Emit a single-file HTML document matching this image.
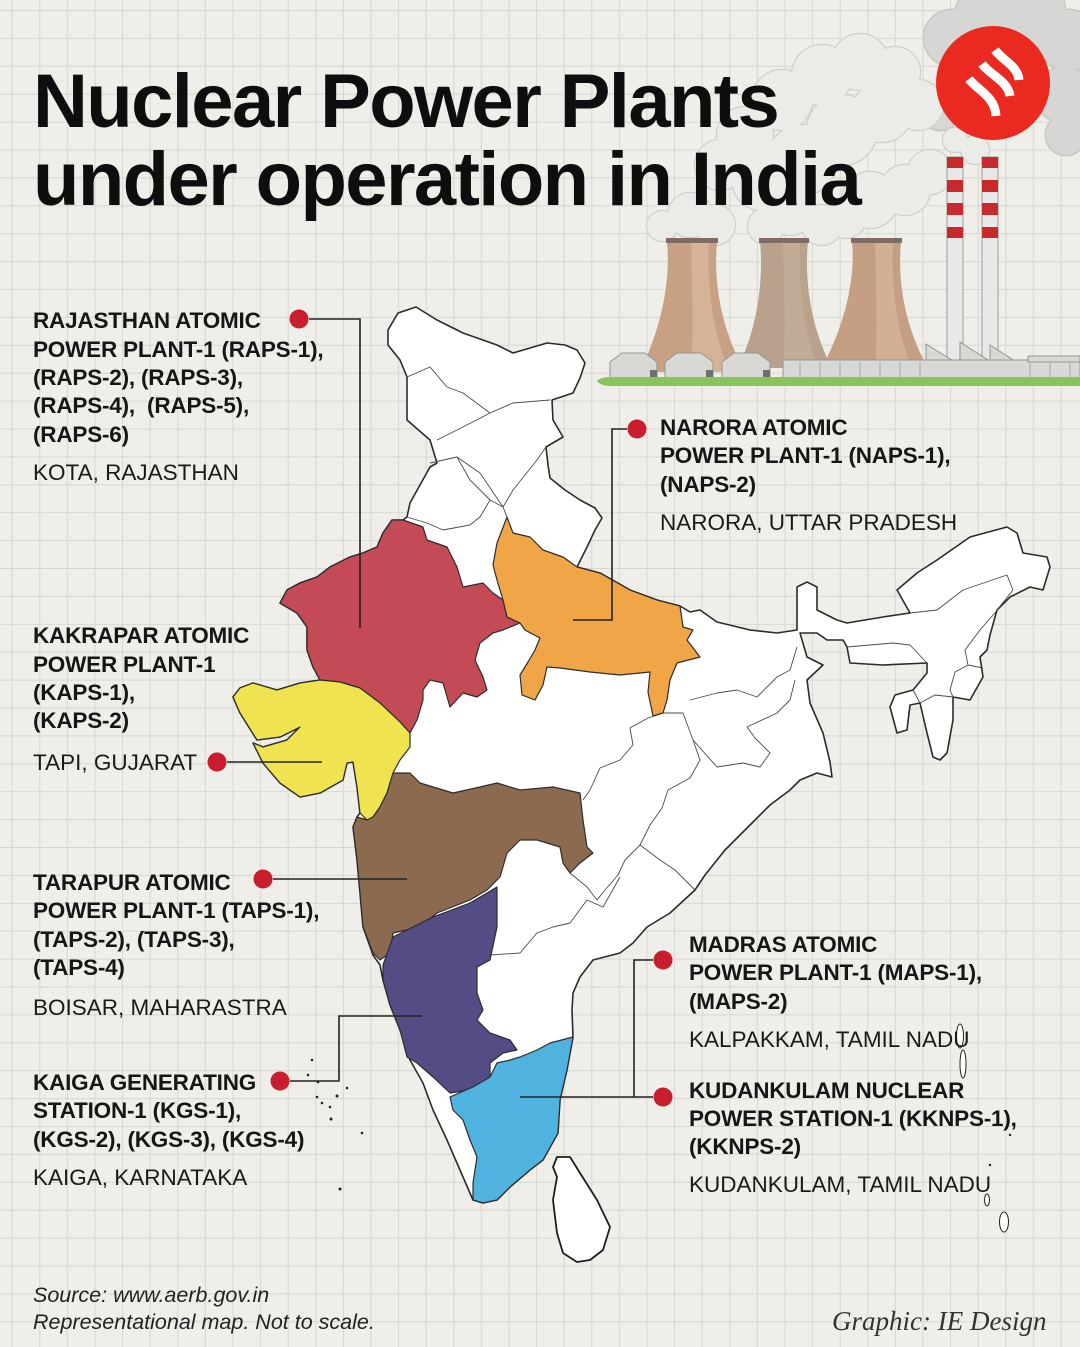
<!DOCTYPE html>
<html><head><meta charset="utf-8"><style>
html,body{margin:0;padding:0;background:#efeee9;}
svg{display:block;}
.t{font-family:"Liberation Sans",Arial,sans-serif;font-weight:700;font-size:76px;letter-spacing:-1.6px;fill:#0e0e0e;}
.b{font-family:"Liberation Sans",Arial,sans-serif;font-weight:700;font-size:22.5px;letter-spacing:-0.2px;fill:#161616;}
.r{font-family:"Liberation Sans",Arial,sans-serif;font-weight:400;font-size:22.5px;fill:#1a1a1a;}
.i{font-family:"Liberation Sans",Arial,sans-serif;font-style:italic;font-size:21.5px;fill:#222;}
.s{font-family:"Liberation Serif","DejaVu Serif",serif;font-style:italic;font-size:27px;fill:#333;}
</style></head><body>
<svg width="1080" height="1347" viewBox="0 0 1080 1347" xmlns="http://www.w3.org/2000/svg">
<defs>
<pattern id="g" x="11.7" y="10" width="27.6" height="27.9" patternUnits="userSpaceOnUse">
<path d="M0,0.5 H27.6 M0.5,0 V27.9" stroke="#d7d7d2" stroke-width="1" fill="none"/>
</pattern>
</defs>
<rect width="1080" height="1347" fill="#efeee9"/>
<rect width="1080" height="1347" fill="url(#g)"/>

<!-- smoke clouds -->
<g stroke="#c8c8c6" stroke-width="3" fill="#d6d6d4">
<circle cx="952" cy="38" r="28"/><circle cx="985" cy="16" r="30"/><circle cx="1030" cy="12" r="35"/><circle cx="1068" cy="40" r="30"/><circle cx="1064" cy="95" r="28"/><circle cx="1066" cy="135" r="20"/><circle cx="940" cy="110" r="20"/>
</g>
<g fill="#d6d6d4">
<circle cx="952" cy="38" r="28"/><circle cx="985" cy="16" r="30"/><circle cx="1030" cy="12" r="35"/><circle cx="1068" cy="40" r="30"/><circle cx="1064" cy="95" r="28"/><circle cx="1066" cy="135" r="20"/><circle cx="940" cy="110" r="20"/>
</g>
<g stroke="#d0d0ce" stroke-width="2.5" fill="#ebebe8">
<circle cx="720" cy="165" r="25"/><circle cx="745" cy="135" r="28"/><circle cx="782" cy="100" r="30"/><circle cx="822" cy="75" r="30"/><circle cx="860" cy="62" r="28"/><circle cx="895" cy="72" r="25"/><circle cx="762" cy="180" r="30"/><circle cx="802" cy="160" r="35"/><circle cx="842" cy="130" r="35"/><circle cx="882" cy="112" r="30"/><circle cx="918" cy="105" r="25"/>
<circle cx="690" cy="215" r="22"/><circle cx="715" cy="225" r="20"/><circle cx="662" cy="226" r="15"/><circle cx="790" cy="210" r="25"/><circle cx="822" cy="225" r="20"/><circle cx="766" cy="226" r="18"/><circle cx="870" cy="200" r="28"/><circle cx="905" cy="190" r="25"/><circle cx="930" cy="172" r="22"/><circle cx="846" cy="218" r="20"/><circle cx="955" cy="140" r="12"/><circle cx="975" cy="150" r="14"/>
</g>
<g fill="#ebebe8">
<circle cx="720" cy="165" r="25"/><circle cx="745" cy="135" r="28"/><circle cx="782" cy="100" r="30"/><circle cx="822" cy="75" r="30"/><circle cx="860" cy="62" r="28"/><circle cx="895" cy="72" r="25"/><circle cx="762" cy="180" r="30"/><circle cx="802" cy="160" r="35"/><circle cx="842" cy="130" r="35"/><circle cx="882" cy="112" r="30"/><circle cx="918" cy="105" r="25"/>
<circle cx="690" cy="215" r="22"/><circle cx="715" cy="225" r="20"/><circle cx="662" cy="226" r="15"/><circle cx="790" cy="210" r="25"/><circle cx="822" cy="225" r="20"/><circle cx="766" cy="226" r="18"/><circle cx="870" cy="200" r="28"/><circle cx="905" cy="190" r="25"/><circle cx="930" cy="172" r="22"/><circle cx="846" cy="218" r="20"/><circle cx="955" cy="140" r="12"/><circle cx="975" cy="150" r="14"/>
</g>

<!-- logo -->
<circle cx="993" cy="83" r="57" fill="#ea2a20"/>
<g stroke="#ffffff" stroke-width="9" fill="none" stroke-linecap="butt">
<path d="M995,50 C1002,60 1018,66 1019,80"/>
<path d="M982,64 C990,75 1008,81 1010,96"/>
<path d="M969,79 C977,90 995,96 996,116"/>
</g>

<!-- title -->
<text class="t" x="33" y="127">Nuclear Power Plants</text>
<text class="t" x="33" y="205">under operation in India</text>

<!-- cooling towers -->
<path d="M760,241 L808,241 C804,285 812,330 832,368 L738,368 C756,330 764,285 760,241 Z" fill="#b9a18b"/>
<path d="M783,241 L800,241 C798,290 804,330 818,368 L783,368 C786,330 784,290 783,241 Z" fill="#c7b19b" opacity="0.7"/>
<path d="M667,241 L717,241 C713,285 722,330 745,372 L640,372 C660,330 671,285 667,241 Z" fill="#c8a184"/>
<path d="M691,241 L709,241 C707,290 713,330 729,372 L691,372 C694,330 692,290 691,241 Z" fill="#d9b99c" opacity="0.75"/>
<path d="M852,241 L901,241 C897,285 906,330 930,372 L820,372 C842,330 856,285 852,241 Z" fill="#c59f83"/>
<path d="M875,241 L893,241 C891,290 897,330 913,372 L875,372 C878,330 876,290 875,241 Z" fill="#d6b699" opacity="0.75"/>
<g fill="#7f6c64">
<rect x="666" y="238" width="52" height="5"/><rect x="759" y="238" width="50" height="5"/><rect x="851" y="238" width="51" height="5"/>
</g>
<!-- chimneys -->
<rect x="947" y="157" width="16" height="212" fill="#e8e8e8" stroke="#9c9c9c" stroke-width="1"/>
<rect x="982" y="157" width="16" height="212" fill="#e8e8e8" stroke="#9c9c9c" stroke-width="1"/>
<g fill="#c8292b">
<rect x="947" y="157" width="16" height="11"/><rect x="947" y="180" width="16" height="12"/><rect x="947" y="203" width="16" height="12"/><rect x="947" y="227" width="16" height="11"/>
<rect x="982" y="157" width="16" height="11"/><rect x="982" y="180" width="16" height="12"/><rect x="982" y="203" width="16" height="12"/><rect x="982" y="227" width="16" height="11"/>
</g>
<!-- buildings -->
<g fill="#d8d8d5" stroke="#949494" stroke-width="1">
<path d="M926,378 V344 L955,362 V378 Z"/>
<path d="M960,378 V342 L988,360 V378 Z"/>
<path d="M990,378 V345 L1018,363 V378 Z"/>
<rect x="783" y="360" width="297" height="18"/>
<rect x="1028" y="356" width="52" height="6"/>
<path d="M610,378 V362 L622,353 H645 L657,362 V378 Z"/>
<path d="M665,378 V362 L677,353 H701 L713,362 V378 Z"/>
<path d="M722,378 V362 L734,353 H758 L770,362 V378 Z"/>
</g>
<g stroke="#a8a8a6" stroke-width="1">
<path d="M800,362 V378 M820,362 V378 M840,362 V378 M860,362 V378 M880,362 V378 M900,362 V378 M920,362 V378 M1030,362 V378 M1050,362 V378 M1070,362 V378"/>
</g>
<g fill="#6f6f6f">
<rect x="650" y="370" width="7" height="8"/><rect x="706" y="370" width="7" height="8"/><rect x="763" y="370" width="7" height="8"/>
</g>
<path d="M597,381 Q600,377 612,377 H1080 V386 H612 Q600,386 597,381 Z" fill="#88c35b"/>

<!-- MAP -->
<g stroke-linejoin="round">
<polygon fill="#ffffff" stroke="#2b2b2b" stroke-width="1.6" points="388,330 398,313 416,307 437,320 463,333 497,345 513,353 530,348 547,343 565,345 577,350 585,363 580,378 573,393 552,400 553,420 563,437 546,447 548,465 550,478 565,490 580,500 595,508 602,518 595,530 588,545 577,567 600,573 630,590 657,600 680,606 690,612 700,610 717,622 750,630 777,633 797,630 797,600 797,587 807,582 817,587 817,610 837,620 847,623 883,617 910,613 897,590 917,573 937,560 970,537 1007,527 1017,533 1023,553 1047,557 1050,567 1043,590 1030,587 1010,597 997,610 990,635 987,650 980,657 983,677 970,700 953,697 953,720 947,753 940,760 933,757 927,733 920,703 910,705 907,730 897,733 890,707 895,695 913,690 927,673 927,663 883,665 850,663 847,647 843,640 827,640 817,633 800,633 807,657 823,665 807,680 810,703 823,733 830,762 832,777 817,773 800,780 790,790 770,805 750,825 725,850 705,875 695,890 670,913 647,927 633,943 620,953 593,960 580,977 573,993 572,1010 573,1037 567,1070 560,1100 558,1133 543,1160 530,1170 510,1187 497,1200 483,1203 473,1200 463,1177 447,1140 433,1110 423,1083 410,1060 400,1030 390,1005 383,980 380,965 373,955 363,927 360,893 357,860 353,827 357,817 360,813 357,787 353,762 347,763 343,780 320,793 300,797 280,783 263,763 253,743 263,747 287,740 300,727 280,737 257,740 240,713 233,697 240,688 253,683 277,690 300,683 320,680 313,667 307,650 307,627 297,613 280,603 287,590 300,583 317,577 330,567 350,557 363,553 377,547 383,533 392,520 403,520 407,517 410,503 420,485 430,467 437,463 430,440 407,420 407,377 400,360 388,345"/>

<!-- internal borders -->
<g fill="none" stroke="#4a4a4a" stroke-width="0.9">
<polyline points="407,377 430,367 447,387 463,393 490,413 513,403 550,400"/>
<polyline points="437,440 463,427 490,413"/>
<polyline points="430,463 457,457 480,473 503,507"/>
<polyline points="503,507 513,490 537,460 546,447"/>
<polyline points="457,457 470,480 490,500 480,517 470,525 443,530 427,523 407,517"/>
<polyline points="490,500 503,507 507,517"/>
<polyline points="663,713 648,718 630,728 633,745 620,760 600,768 590,790 583,800"/>
<polyline points="663,713 683,713 693,740 700,760 690,778 668,790 662,808 650,825 640,845 625,860 618,875 605,890 597,900"/>
<polyline points="690,700 717,693 737,690 757,697 777,677 790,670 797,647"/>
<polyline points="693,740 717,767 743,763 760,767 770,753 755,738 747,727 777,713 790,700 795,680"/>
<polyline points="640,845 660,860 675,870 695,890"/>
<polyline points="490,955 520,953 537,933 553,927 570,923 587,900 603,907 620,877"/>
<polyline points="570,873 587,887 597,900"/>
<polyline points="910,613 937,610 963,590 1007,575 1013,590 997,610"/>
<polyline points="1000,607 980,630 965,650 968,665 983,668"/>
<polyline points="968,665 955,672 950,690 953,697"/>
<polyline points="847,647 870,645 893,643 910,645 927,663"/>
<polyline points="920,703 935,695 953,697"/>
<polyline points="913,690 920,703"/>
</g>

<!-- coloured states -->
<g stroke="#2d2d2d" stroke-width="1.2">
<polygon fill="#c44a56" points="392,520 403,520 423,527 427,540 447,547 457,567 463,587 483,583 493,593 503,600 507,617 520,623 503,630 493,633 480,643 475,660 483,677 487,690 477,697 463,693 450,707 443,683 430,680 423,690 423,700 417,720 410,733 400,722 380,703 360,688 340,682 320,680 313,667 307,650 307,627 297,613 280,603 287,590 300,583 317,577 330,567 350,557 363,553 377,547 383,533"/>
<polygon fill="#f0a546" points="507,517 513,533 530,537 543,550 563,557 577,567 600,573 630,590 657,600 680,606 683,627 693,630 687,640 700,657 677,663 670,680 667,700 663,713 653,716 648,692 650,672 620,675 590,672 560,668 547,667 543,685 535,700 522,695 520,675 528,662 535,650 540,638 525,630 520,623 507,617 503,600 497,580 493,565 497,543"/>
<polygon fill="#f0e350" points="253,683 277,690 300,683 320,680 340,682 360,688 380,703 400,722 410,733 410,747 400,760 393,773 387,793 380,807 373,817 367,820 360,813 357,787 353,762 347,763 343,780 320,793 300,797 280,783 263,763 253,743 263,747 287,740 300,727 280,737 257,740 240,713 233,697 240,688"/>
<polygon fill="#8c6a50" points="393,773 410,773 420,783 453,793 480,787 497,783 520,790 553,787 580,793 583,820 587,847 593,853 580,863 570,873 563,863 560,847 537,840 520,840 507,853 500,877 487,890 470,900 437,913 420,927 393,933 390,953 380,960 373,953 363,927 360,893 357,860 353,827 357,817 367,820 373,817 380,807 387,793"/>
<polygon fill="#544c84" points="393,937 407,930 433,917 470,903 487,893 497,887 497,927 490,960 477,967 477,993 483,1010 477,1020 490,1033 510,1040 517,1050 503,1053 490,1063 490,1077 470,1090 450,1093 433,1077 417,1063 407,1057 400,1030 390,1005 383,980 383,965"/>
<polygon fill="#50b2de" points="573,1037 550,1043 537,1050 520,1057 510,1060 497,1063 490,1077 473,1087 450,1097 453,1110 463,1120 470,1140 477,1157 473,1183 473,1200 483,1203 497,1200 510,1187 530,1170 543,1160 558,1133 560,1100 567,1070"/>
</g>

<!-- Sri Lanka -->
<polygon fill="#ffffff" stroke="#1e1e1e" stroke-width="1.8" points="557,1157 570,1157 580,1173 597,1200 610,1227 603,1250 590,1260 577,1262 563,1253 557,1233 553,1200 557,1177 553,1167"/>
<!-- islands -->
<g fill="#ffffff" stroke="#222" stroke-width="1">
<ellipse cx="960" cy="1036" rx="3.5" ry="12"/><ellipse cx="963" cy="1064" rx="3" ry="14"/>
<ellipse cx="1004" cy="1222" rx="4.5" ry="10"/><ellipse cx="987" cy="1200" rx="2.5" ry="6"/>
</g>
<g fill="#222">
<circle cx="312" cy="1060" r="1.3"/><circle cx="308" cy="1075" r="1.3"/><circle cx="318" cy="1082" r="1.3"/><circle cx="347" cy="1088" r="1.3"/><circle cx="317" cy="1097" r="1.3"/><circle cx="337" cy="1096" r="1.5"/><circle cx="322" cy="1103" r="1.3"/><circle cx="330" cy="1107" r="1.3"/><circle cx="331" cy="1119" r="1.5"/><circle cx="362" cy="1133" r="1.3"/><circle cx="340" cy="1189" r="1.5"/><circle cx="990" cy="1165" r="1.2"/><circle cx="1010" cy="1135" r="1.2"/>
</g>
</g>

<!-- connector lines -->
<g fill="none" stroke="#222" stroke-width="1.6">
<path d="M309,319 H360 V628"/>
<path d="M227,762 H322"/>
<path d="M273,879 H407"/>
<path d="M290,1081 H339 V1016 H422"/>
<path d="M627,429 H612 V620 H573"/>
<path d="M653,960 H634 V1097 H520 M634,1097 H653"/>
</g>
<g fill="#c81e2d">
<circle cx="299" cy="319" r="9.5"/><circle cx="217" cy="762" r="9.5"/><circle cx="263" cy="879" r="9.5"/><circle cx="280" cy="1081" r="9.5"/><circle cx="637" cy="429" r="9.5"/><circle cx="663" cy="960" r="9.5"/><circle cx="663" cy="1097" r="9.5"/>
</g>

<!-- labels left -->
<text class="b" x="33" y="328">RAJASTHAN ATOMIC</text>
<text class="b" x="33" y="357">POWER PLANT-1 (RAPS-1),</text>
<text class="b" x="33" y="385">(RAPS-2), (RAPS-3),</text>
<text class="b" x="33" y="413">(RAPS-4),&#160; (RAPS-5),</text>
<text class="b" x="33" y="442">(RAPS-6)</text>
<text class="r" x="33" y="480">KOTA, RAJASTHAN</text>

<text class="b" x="33" y="643">KAKRAPAR ATOMIC</text>
<text class="b" x="33" y="672">POWER PLANT-1</text>
<text class="b" x="33" y="700">(KAPS-1),</text>
<text class="b" x="33" y="728">(KAPS-2)</text>
<text class="r" x="33" y="770">TAPI, GUJARAT</text>

<text class="b" x="33" y="890">TARAPUR ATOMIC</text>
<text class="b" x="33" y="918">POWER PLANT-1 (TAPS-1),</text>
<text class="b" x="33" y="947">(TAPS-2), (TAPS-3),</text>
<text class="b" x="33" y="975">(TAPS-4)</text>
<text class="r" x="33" y="1015">BOISAR, MAHARASTRA</text>

<text class="b" x="33" y="1090">KAIGA GENERATING</text>
<text class="b" x="33" y="1118">STATION-1 (KGS-1),</text>
<text class="b" x="33" y="1147">(KGS-2), (KGS-3), (KGS-4)</text>
<text class="r" x="33" y="1185">KAIGA, KARNATAKA</text>

<!-- labels right -->
<text class="b" x="660" y="435">NARORA ATOMIC</text>
<text class="b" x="660" y="463">POWER PLANT-1 (NAPS-1),</text>
<text class="b" x="660" y="492">(NAPS-2)</text>
<text class="r" x="660" y="530">NARORA, UTTAR PRADESH</text>

<text class="b" x="689" y="952">MADRAS ATOMIC</text>
<text class="b" x="689" y="980">POWER PLANT-1 (MAPS-1),</text>
<text class="b" x="689" y="1009">(MAPS-2)</text>
<text class="r" x="689" y="1047">KALPAKKAM, TAMIL NADU</text>

<text class="b" x="689" y="1098">KUDANKULAM NUCLEAR</text>
<text class="b" x="689" y="1126">POWER STATION-1 (KKNPS-1),</text>
<text class="b" x="689" y="1154">(KKNPS-2)</text>
<text class="r" x="689" y="1192">KUDANKULAM, TAMIL NADU</text>

<!-- footer -->
<text class="i" x="33" y="1302">Source: www.aerb.gov.in</text>
<text class="i" x="33" y="1329">Representational map. Not to scale.</text>
<text class="s" x="832" y="1330">Graphic: IE Design</text>
</svg>
</body></html>
